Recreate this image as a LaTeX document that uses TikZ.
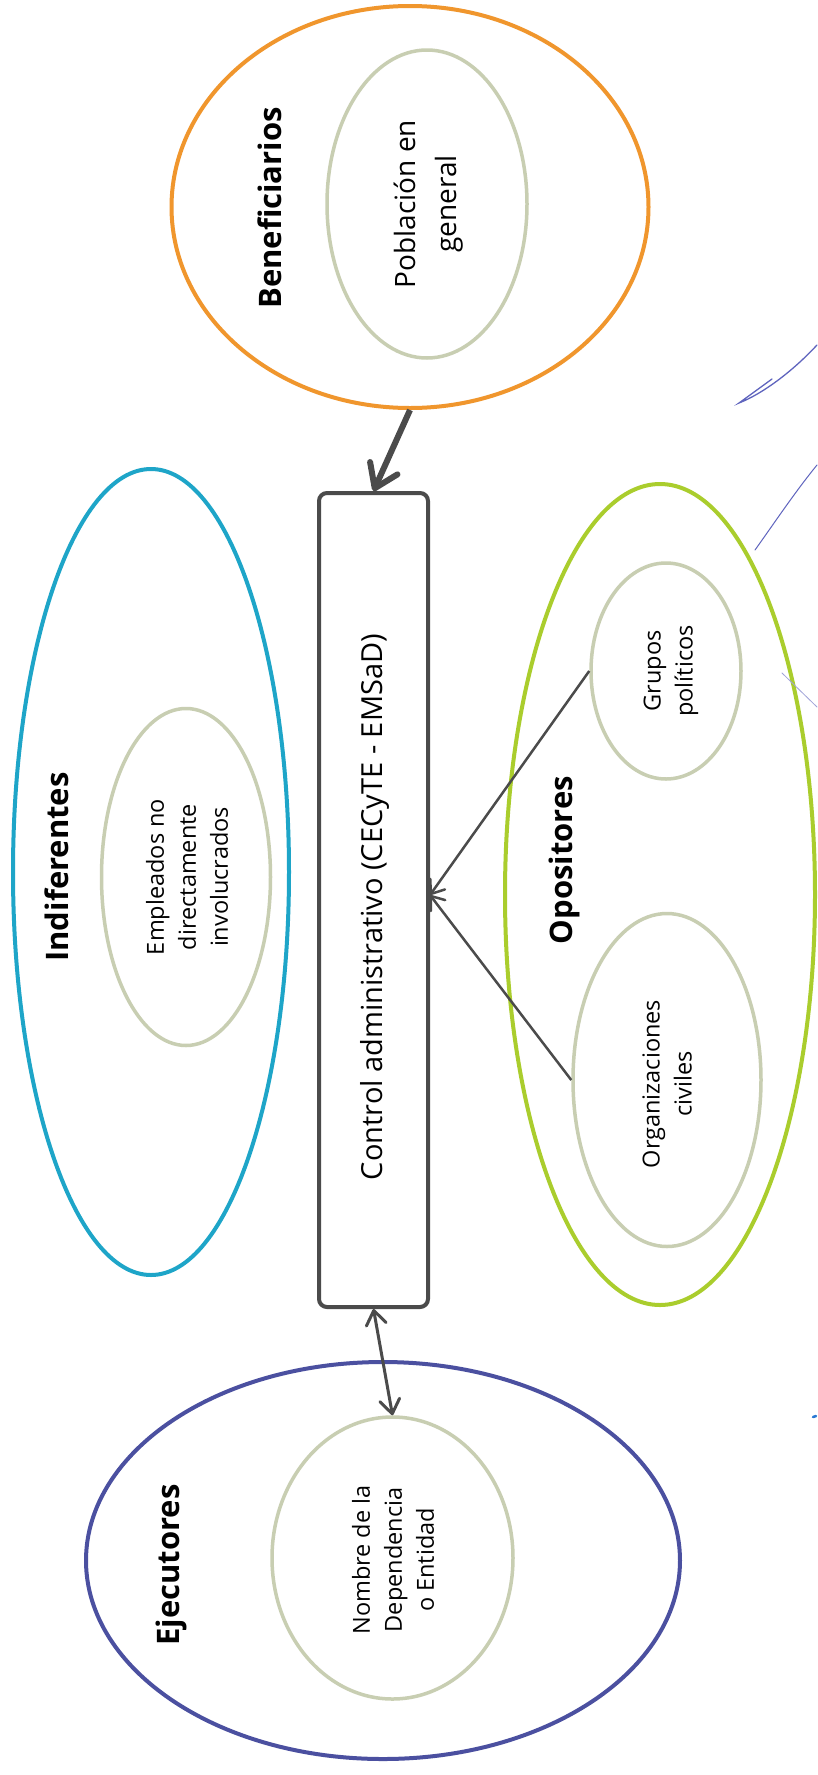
\documentclass[tikz,border=0pt]{standalone}
\usepackage{fontspec}
\setmainfont{Open Sans}
\usetikzlibrary{shapes.geometric,arrows.meta}
\definecolor{cOrange}{RGB}{240,150,45}
\definecolor{cCyan}{RGB}{30,165,200}
\definecolor{cGreen}{RGB}{170,205,45}
\definecolor{cNavy}{RGB}{75,80,160}
\definecolor{cInner}{RGB}{200,206,178}
\definecolor{cDark}{RGB}{75,75,75}
\definecolor{cPen}{RGB}{95,100,190}
\definecolor{cPenDot}{RGB}{40,120,210}
\begin{document}
\begin{tikzpicture}[x=1pt,y=-1pt,
  outer/.style={ellipse, draw, line width=4pt, inner sep=0pt},
  innerell/.style={ellipse, draw=cInner, line width=3.5pt, inner sep=0pt},
  headlbl/.style={rotate=90, font=\fontsize{31}{36}\selectfont\bfseries, inner sep=0pt},
  smalltxt/.style={rotate=90, align=center, font=\fontsize{23.5}{32}\selectfont, inner sep=0pt},
  bigarrow/.style={draw=cDark, line width=6pt, -{Straight Barb[length=22pt,width=30pt,round]}},
  dblarrow/.style={draw=cDark, line width=3pt, {Straight Barb[length=14pt,width=20pt,round]}-{Straight Barb[length=14pt,width=20pt,round]}},
  thinarrow/.style={draw=cDark, line width=2.5pt, -{Straight Barb[length=12pt,width=18pt,round]}},
  pen/.style={draw=cPen, line width=1.3pt, line cap=round}
]
\useasboundingbox (0,0) rectangle (817,1775);
\fill[white] (0,0) rectangle (817,1775);

% Beneficiarios
\node[outer, draw=cOrange, minimum width=477pt, minimum height=402pt] (ben) at (410,207) {};
\node[innerell, minimum width=200pt, minimum height=308pt] (pob) at (427,204) {};
\node[headlbl] (benlbl) at (270,208) {Beneficiarios};
\node[smalltxt, font=\fontsize{28}{41}\selectfont] (pobtxt) at (429,204) {Población en\\general};

% Indiferentes
\node[outer, draw=cCyan, minimum width=276pt, minimum height=806pt] (ind) at (151,872) {};
\node[innerell, minimum width=169pt, minimum height=337pt] (emp) at (186,877) {};
\node[headlbl] (indlbl) at (57,867) {Indiferentes};
\node[smalltxt] (emptxt) at (187,877) {Empleados no\\directamente\\involucrados};

% Control box
\node[draw=cDark, line width=4pt, rounded corners=8pt, minimum width=109pt, minimum height=814pt, inner sep=0pt] (ctrl) at (373.5,900) {};
\node[rotate=90, font=\fontsize{29}{34}\selectfont, inner sep=0pt] (ctrltxt) at (375,907) {Control administrativo (CECyTE - EMSaD)};

% Opositores
\node[outer, draw=cGreen, minimum width=310pt, minimum height=821pt] (opo) at (660,894.5) {};
\node[innerell, minimum width=150pt, minimum height=216pt] (grp) at (666,671) {};
\node[innerell, minimum width=188pt, minimum height=333pt] (org) at (667,1080) {};
\node[headlbl] (opolbl) at (564,860) {Opositores};
\node[smalltxt] (grptxt) at (671,671) {Grupos\\políticos};
\node[smalltxt] (orgtxt) at (667,1084) {Organizaciones\\civiles};

% Ejecutores
\node[outer, draw=cNavy, minimum width=594pt, minimum height=397pt] (eje) at (383,1560.5) {};
\node[innerell, minimum width=241pt, minimum height=282pt] (nom) at (392.5,1558) {};
\node[headlbl] (ejelbl) at (171,1565) {Ejecutores};
\node[smalltxt] (nomtxt) at (393,1560) {Nombre de la\\Dependencia\\o Entidad};

% Connectors
\draw[bigarrow] (ben.south) -- (ctrl.north);
\draw[thinarrow] (grp.west) -- ([yshift=5pt]ctrl.east);
\draw[thinarrow] (org.west) -- ([yshift=5pt]ctrl.east);
\draw[dblarrow] (ctrl.south) -- (nom.north);

% Handwritten pen marks (scan)
\draw[pen] (817,345) .. controls (792,372) and (762,394) .. (739,403) -- (772,379);
\draw[pen, line width=1pt] (817,465) .. controls (795,492) and (775,522) .. (755,550);
\draw[pen, line width=0.8pt, draw=cPen!60] (782,673) -- (817,707);
\draw[draw=cPenDot, line width=2.5pt, line cap=round] (813,1417) -- (816,1416);
\end{tikzpicture}
\end{document}
